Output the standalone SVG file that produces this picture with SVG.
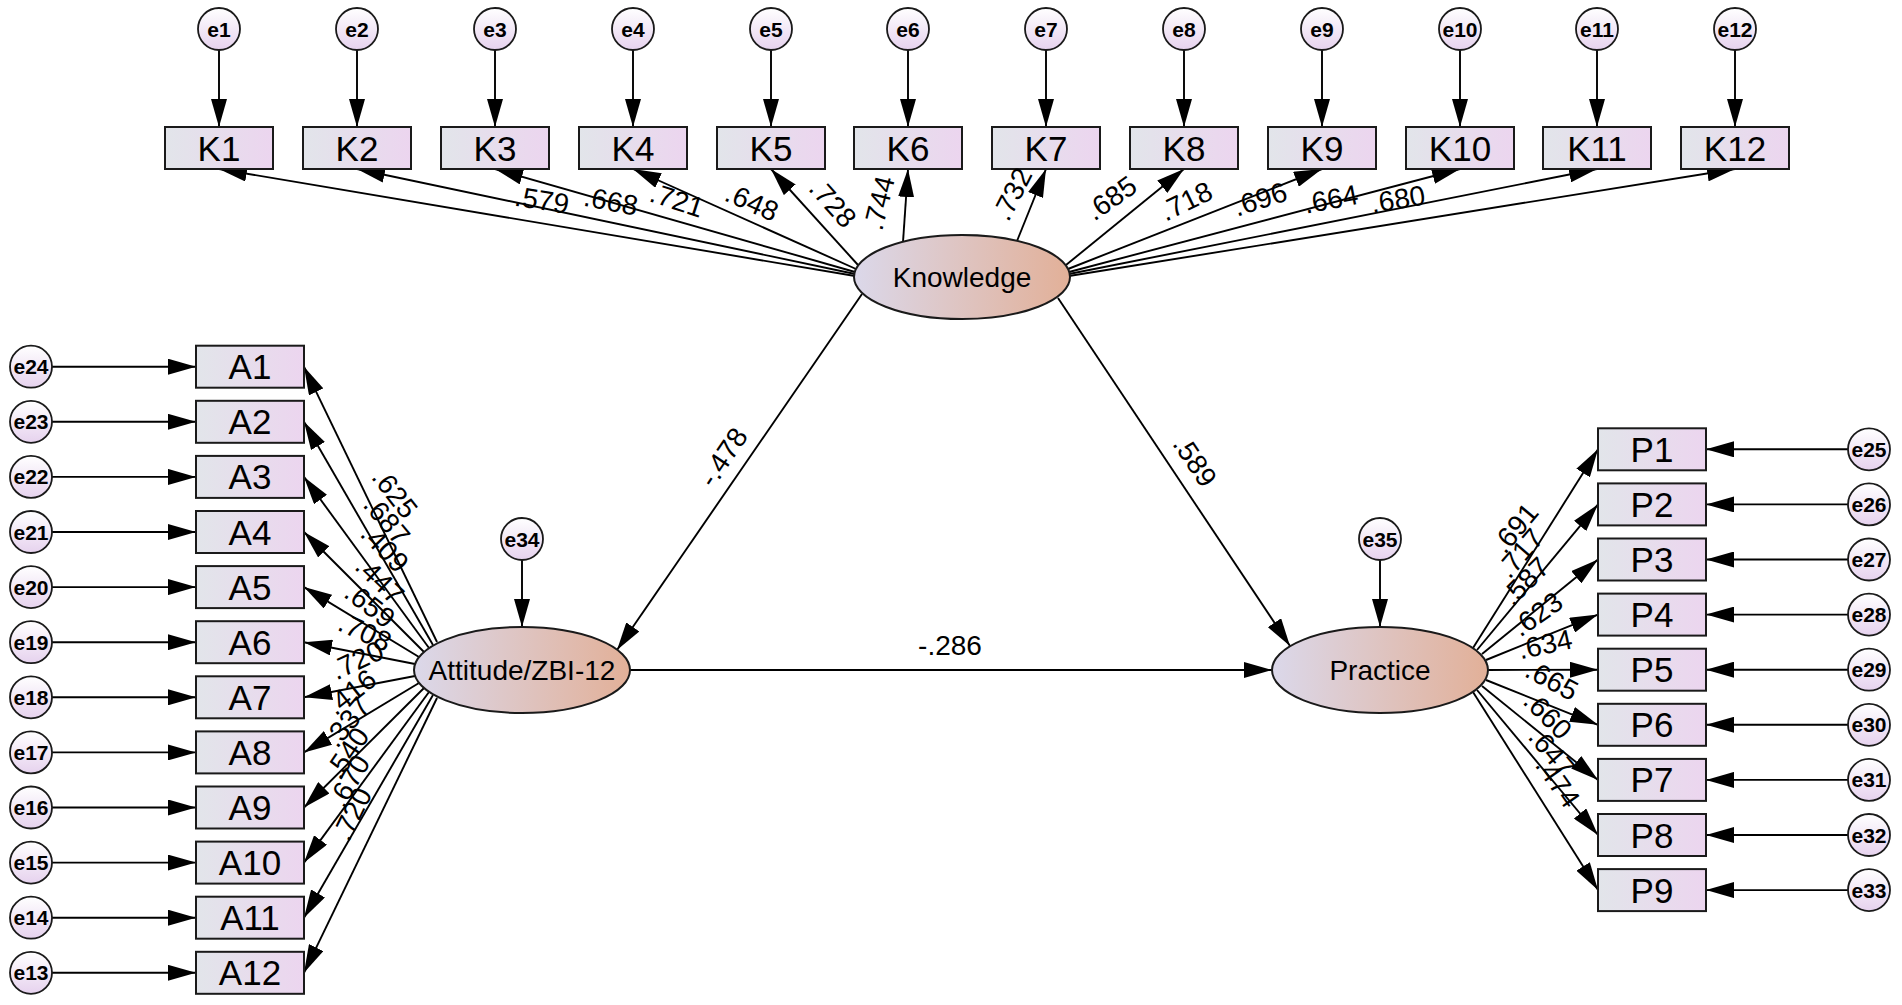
<svg xmlns="http://www.w3.org/2000/svg" width="1902" height="1005" viewBox="0 0 1902 1005">
<defs>
<linearGradient id="gBox" x1="0" y1="0" x2="1" y2="0"><stop offset="0" stop-color="#e2e5ea"/><stop offset="1" stop-color="#ecd5ef"/></linearGradient>
<linearGradient id="gLat" x1="0" y1="0" x2="1" y2="0"><stop offset="0" stop-color="#dbd8ea"/><stop offset="1" stop-color="#e2b098"/></linearGradient>
<linearGradient id="gErr" x1="0" y1="0" x2="0" y2="1"><stop offset="0" stop-color="#ffffff"/><stop offset="1" stop-color="#e6d2ee"/></linearGradient>
<marker id="ah" markerUnits="userSpaceOnUse" viewBox="0 0 28 16" refX="28" refY="8" markerWidth="28" markerHeight="16" orient="auto"><path d="M0,0L28,8L0,16Z" fill="#000"/></marker>
</defs>
<style>
.c{fill:none;stroke:#000;stroke-width:1.9;marker-end:url(#ah)}
.box{fill:url(#gBox);stroke:#1a1a1a;stroke-width:2}
.lat{fill:url(#gLat);stroke:#1a1a1a;stroke-width:2}
.err{fill:url(#gErr);stroke:#1a1a1a;stroke-width:1.8}
text{font-family:"Liberation Sans",Arial,sans-serif;fill:#000;text-anchor:middle}
.bt{font-size:35px}
.et{font-size:21px;font-weight:bold}
.lt{font-size:28px}
.pl{font-size:28px}
</style>
<rect width="1902" height="1005" fill="#fff"/>
<g id="connectors">
<path class="c" d="M219,50V127"/><path class="c" d="M357,50V127"/><path class="c" d="M495,50V127"/><path class="c" d="M633,50V127"/><path class="c" d="M771,50V127"/><path class="c" d="M908,50V127"/><path class="c" d="M1046,50V127"/><path class="c" d="M1184,50V127"/><path class="c" d="M1322,50V127"/><path class="c" d="M1460,50V127"/><path class="c" d="M1597,50V127"/><path class="c" d="M1735,50V127"/>
<path class="c" d="M52,366.7H196"/><path class="c" d="M52,421.8H196"/><path class="c" d="M52,476.9H196"/><path class="c" d="M52,532H196"/><path class="c" d="M52,587.1H196"/><path class="c" d="M52,642.2H196"/><path class="c" d="M52,697.3H196"/><path class="c" d="M52,752.4H196"/><path class="c" d="M52,807.5H196"/><path class="c" d="M52,862.6H196"/><path class="c" d="M52,917.7H196"/><path class="c" d="M52,972.8H196"/>
<path class="c" d="M1848,449.3H1706"/><path class="c" d="M1848,504.4H1706"/><path class="c" d="M1848,559.5H1706"/><path class="c" d="M1848,614.6H1706"/><path class="c" d="M1848,669.7H1706"/><path class="c" d="M1848,724.8H1706"/><path class="c" d="M1848,779.9H1706"/><path class="c" d="M1848,835H1706"/><path class="c" d="M1848,890.1H1706"/>
<path class="c" d="M522,560V627"/><path class="c" d="M1380,560V627"/>
<path class="c" d="M855,276L219,169"/><path class="c" d="M855,274L357,169"/><path class="c" d="M855,272L495,169"/><path class="c" d="M856,269L633,169"/><path class="c" d="M858,265L771,169"/><path class="c" d="M903,242L908,169"/><path class="c" d="M1017,241L1046,169"/><path class="c" d="M1066,265L1184,169"/><path class="c" d="M1068,269L1322,169"/><path class="c" d="M1069,272L1460,169"/><path class="c" d="M1069,274L1597,169"/><path class="c" d="M1069,276L1735,169"/>
<path class="c" d="M437,642L304,366.7"/><path class="c" d="M433,645L304,421.8"/><path class="c" d="M429,648L304,476.9"/><path class="c" d="M424,652L304,532"/><path class="c" d="M419,657L304,587.1"/><path class="c" d="M415,664L304,642.2"/><path class="c" d="M415,676L304,697.3"/><path class="c" d="M419,683L304,752.4"/><path class="c" d="M424,688L304,807.5"/><path class="c" d="M429,692L304,862.6"/><path class="c" d="M433,695L304,917.7"/><path class="c" d="M437,698L304,972.8"/>
<path class="c" d="M1473,648L1598,449.3"/><path class="c" d="M1477,650L1598,504.4"/><path class="c" d="M1482,654L1598,559.5"/><path class="c" d="M1486,660L1598,614.6"/><path class="c" d="M1488,670L1598,669.7"/><path class="c" d="M1486,680L1598,724.8"/><path class="c" d="M1482,686L1598,779.9"/><path class="c" d="M1477,690L1598,835"/><path class="c" d="M1473,692L1598,890.1"/>
<path class="c" d="M862,294L617,650"/>
<path class="c" d="M1058,298L1290,646"/>
<path class="c" d="M630,670L1272,670"/>
</g>
<g id="Knowledge"><ellipse class="lat" cx="962" cy="277" rx="108" ry="42"/><text class="lt" x="962" y="287">Knowledge</text></g>
<g id="Attitude"><ellipse class="lat" cx="522" cy="670" rx="108" ry="43"/><text class="lt" x="522" y="680">Attitude/ZBI-12</text></g>
<g id="Practice"><ellipse class="lat" cx="1380" cy="670" rx="108" ry="43"/><text class="lt" x="1380" y="680">Practice</text></g>
<g id="K1"><rect class="box" x="165" y="127" width="108" height="42"/><text class="bt" x="219" y="160.5">K1</text></g>
<g id="K2"><rect class="box" x="303" y="127" width="108" height="42"/><text class="bt" x="357" y="160.5">K2</text></g>
<g id="K3"><rect class="box" x="441" y="127" width="108" height="42"/><text class="bt" x="495" y="160.5">K3</text></g>
<g id="K4"><rect class="box" x="579" y="127" width="108" height="42"/><text class="bt" x="633" y="160.5">K4</text></g>
<g id="K5"><rect class="box" x="717" y="127" width="108" height="42"/><text class="bt" x="771" y="160.5">K5</text></g>
<g id="K6"><rect class="box" x="854" y="127" width="108" height="42"/><text class="bt" x="908" y="160.5">K6</text></g>
<g id="K7"><rect class="box" x="992" y="127" width="108" height="42"/><text class="bt" x="1046" y="160.5">K7</text></g>
<g id="K8"><rect class="box" x="1130" y="127" width="108" height="42"/><text class="bt" x="1184" y="160.5">K8</text></g>
<g id="K9"><rect class="box" x="1268" y="127" width="108" height="42"/><text class="bt" x="1322" y="160.5">K9</text></g>
<g id="K10"><rect class="box" x="1406" y="127" width="108" height="42"/><text class="bt" x="1460" y="160.5">K10</text></g>
<g id="K11"><rect class="box" x="1543" y="127" width="108" height="42"/><text class="bt" x="1597" y="160.5">K11</text></g>
<g id="K12"><rect class="box" x="1681" y="127" width="108" height="42"/><text class="bt" x="1735" y="160.5">K12</text></g>
<g id="e1"><ellipse class="err" cx="219" cy="29" rx="21" ry="21"/><text class="et" x="219" y="36.5">e1</text></g>
<g id="e2"><ellipse class="err" cx="357" cy="29" rx="21" ry="21"/><text class="et" x="357" y="36.5">e2</text></g>
<g id="e3"><ellipse class="err" cx="495" cy="29" rx="21" ry="21"/><text class="et" x="495" y="36.5">e3</text></g>
<g id="e4"><ellipse class="err" cx="633" cy="29" rx="21" ry="21"/><text class="et" x="633" y="36.5">e4</text></g>
<g id="e5"><ellipse class="err" cx="771" cy="29" rx="21" ry="21"/><text class="et" x="771" y="36.5">e5</text></g>
<g id="e6"><ellipse class="err" cx="908" cy="29" rx="21" ry="21"/><text class="et" x="908" y="36.5">e6</text></g>
<g id="e7"><ellipse class="err" cx="1046" cy="29" rx="21" ry="21"/><text class="et" x="1046" y="36.5">e7</text></g>
<g id="e8"><ellipse class="err" cx="1184" cy="29" rx="21" ry="21"/><text class="et" x="1184" y="36.5">e8</text></g>
<g id="e9"><ellipse class="err" cx="1322" cy="29" rx="21" ry="21"/><text class="et" x="1322" y="36.5">e9</text></g>
<g id="e10"><ellipse class="err" cx="1460" cy="29" rx="21" ry="21"/><text class="et" x="1460" y="36.5">e10</text></g>
<g id="e11"><ellipse class="err" cx="1597" cy="29" rx="21" ry="21"/><text class="et" x="1597" y="36.5">e11</text></g>
<g id="e12"><ellipse class="err" cx="1735" cy="29" rx="21" ry="21"/><text class="et" x="1735" y="36.5">e12</text></g>
<g id="A1"><rect class="box" x="196" y="345.7" width="108" height="42"/><text class="bt" x="250" y="379.2">A1</text></g>
<g id="A2"><rect class="box" x="196" y="400.8" width="108" height="42"/><text class="bt" x="250" y="434.3">A2</text></g>
<g id="A3"><rect class="box" x="196" y="455.9" width="108" height="42"/><text class="bt" x="250" y="489.4">A3</text></g>
<g id="A4"><rect class="box" x="196" y="511" width="108" height="42"/><text class="bt" x="250" y="544.5">A4</text></g>
<g id="A5"><rect class="box" x="196" y="566.1" width="108" height="42"/><text class="bt" x="250" y="599.6">A5</text></g>
<g id="A6"><rect class="box" x="196" y="621.2" width="108" height="42"/><text class="bt" x="250" y="654.7">A6</text></g>
<g id="A7"><rect class="box" x="196" y="676.3" width="108" height="42"/><text class="bt" x="250" y="709.8">A7</text></g>
<g id="A8"><rect class="box" x="196" y="731.4" width="108" height="42"/><text class="bt" x="250" y="764.9">A8</text></g>
<g id="A9"><rect class="box" x="196" y="786.5" width="108" height="42"/><text class="bt" x="250" y="820">A9</text></g>
<g id="A10"><rect class="box" x="196" y="841.6" width="108" height="42"/><text class="bt" x="250" y="875.1">A10</text></g>
<g id="A11"><rect class="box" x="196" y="896.7" width="108" height="42"/><text class="bt" x="250" y="930.2">A11</text></g>
<g id="A12"><rect class="box" x="196" y="951.8" width="108" height="42"/><text class="bt" x="250" y="985.3">A12</text></g>
<g id="e24"><ellipse class="err" cx="31" cy="366.7" rx="21" ry="21"/><text class="et" x="31" y="374.2">e24</text></g>
<g id="e23"><ellipse class="err" cx="31" cy="421.8" rx="21" ry="21"/><text class="et" x="31" y="429.3">e23</text></g>
<g id="e22"><ellipse class="err" cx="31" cy="476.9" rx="21" ry="21"/><text class="et" x="31" y="484.4">e22</text></g>
<g id="e21"><ellipse class="err" cx="31" cy="532" rx="21" ry="21"/><text class="et" x="31" y="539.5">e21</text></g>
<g id="e20"><ellipse class="err" cx="31" cy="587.1" rx="21" ry="21"/><text class="et" x="31" y="594.6">e20</text></g>
<g id="e19"><ellipse class="err" cx="31" cy="642.2" rx="21" ry="21"/><text class="et" x="31" y="649.7">e19</text></g>
<g id="e18"><ellipse class="err" cx="31" cy="697.3" rx="21" ry="21"/><text class="et" x="31" y="704.8">e18</text></g>
<g id="e17"><ellipse class="err" cx="31" cy="752.4" rx="21" ry="21"/><text class="et" x="31" y="759.9">e17</text></g>
<g id="e16"><ellipse class="err" cx="31" cy="807.5" rx="21" ry="21"/><text class="et" x="31" y="815">e16</text></g>
<g id="e15"><ellipse class="err" cx="31" cy="862.6" rx="21" ry="21"/><text class="et" x="31" y="870.1">e15</text></g>
<g id="e14"><ellipse class="err" cx="31" cy="917.7" rx="21" ry="21"/><text class="et" x="31" y="925.2">e14</text></g>
<g id="e13"><ellipse class="err" cx="31" cy="972.8" rx="21" ry="21"/><text class="et" x="31" y="980.3">e13</text></g>
<g id="P1"><rect class="box" x="1598" y="428.3" width="108" height="42"/><text class="bt" x="1652" y="461.8">P1</text></g>
<g id="P2"><rect class="box" x="1598" y="483.4" width="108" height="42"/><text class="bt" x="1652" y="516.9">P2</text></g>
<g id="P3"><rect class="box" x="1598" y="538.5" width="108" height="42"/><text class="bt" x="1652" y="572">P3</text></g>
<g id="P4"><rect class="box" x="1598" y="593.6" width="108" height="42"/><text class="bt" x="1652" y="627.1">P4</text></g>
<g id="P5"><rect class="box" x="1598" y="648.7" width="108" height="42"/><text class="bt" x="1652" y="682.2">P5</text></g>
<g id="P6"><rect class="box" x="1598" y="703.8" width="108" height="42"/><text class="bt" x="1652" y="737.3">P6</text></g>
<g id="P7"><rect class="box" x="1598" y="758.9" width="108" height="42"/><text class="bt" x="1652" y="792.4">P7</text></g>
<g id="P8"><rect class="box" x="1598" y="814" width="108" height="42"/><text class="bt" x="1652" y="847.5">P8</text></g>
<g id="P9"><rect class="box" x="1598" y="869.1" width="108" height="42"/><text class="bt" x="1652" y="902.6">P9</text></g>
<g id="e25"><ellipse class="err" cx="1869" cy="449.3" rx="21" ry="21"/><text class="et" x="1869" y="456.8">e25</text></g>
<g id="e26"><ellipse class="err" cx="1869" cy="504.4" rx="21" ry="21"/><text class="et" x="1869" y="511.9">e26</text></g>
<g id="e27"><ellipse class="err" cx="1869" cy="559.5" rx="21" ry="21"/><text class="et" x="1869" y="567">e27</text></g>
<g id="e28"><ellipse class="err" cx="1869" cy="614.6" rx="21" ry="21"/><text class="et" x="1869" y="622.1">e28</text></g>
<g id="e29"><ellipse class="err" cx="1869" cy="669.7" rx="21" ry="21"/><text class="et" x="1869" y="677.2">e29</text></g>
<g id="e30"><ellipse class="err" cx="1869" cy="724.8" rx="21" ry="21"/><text class="et" x="1869" y="732.3">e30</text></g>
<g id="e31"><ellipse class="err" cx="1869" cy="779.9" rx="21" ry="21"/><text class="et" x="1869" y="787.4">e31</text></g>
<g id="e32"><ellipse class="err" cx="1869" cy="835" rx="21" ry="21"/><text class="et" x="1869" y="842.5">e32</text></g>
<g id="e33"><ellipse class="err" cx="1869" cy="890.1" rx="21" ry="21"/><text class="et" x="1869" y="897.6">e33</text></g>
<g id="e34"><ellipse class="err" cx="522" cy="539" rx="21" ry="21"/><text class="et" x="522" y="546.5">e34</text></g>
<g id="e35"><ellipse class="err" cx="1380" cy="539" rx="21" ry="21"/><text class="et" x="1380" y="546.5">e35</text></g>
<g id="labels">
<text class="pl" dy=".35em" transform="translate(542,200) rotate(9)">.579</text>
<text class="pl" dy=".35em" transform="translate(611,201) rotate(11)">.668</text>
<text class="pl" dy=".35em" transform="translate(677,200) rotate(18)">.721</text>
<text class="pl" dy=".35em" transform="translate(752,202) rotate(24)">.648</text>
<text class="pl" dy=".35em" transform="translate(833,203) rotate(48)">.728</text>
<text class="pl" dy=".35em" transform="translate(879,203) rotate(-76)">.744</text>
<text class="pl" dy=".35em" transform="translate(1012,194) rotate(-63)">.732</text>
<text class="pl" dy=".35em" transform="translate(1111,198) rotate(-35)">.685</text>
<text class="pl" dy=".35em" transform="translate(1186,201) rotate(-26)">.718</text>
<text class="pl" dy=".35em" transform="translate(1260,199) rotate(-18)">.696</text>
<text class="pl" dy=".35em" transform="translate(1331,199) rotate(-11)">.664</text>
<text class="pl" dy=".35em" transform="translate(1398,199) rotate(-9)">.680</text>
<text class="pl" dy=".35em" transform="translate(395,493) rotate(52)">.625</text>
<text class="pl" dy=".35em" transform="translate(387,520) rotate(50)">.687</text>
<text class="pl" dy=".35em" transform="translate(385,548) rotate(46)">.409</text>
<text class="pl" dy=".35em" transform="translate(380,580) rotate(44)">.447</text>
<text class="pl" dy=".35em" transform="translate(370,605) rotate(38)">.659</text>
<text class="pl" dy=".35em" transform="translate(365,632) rotate(25)">.708</text>
<text class="pl" dy=".35em" transform="translate(357,660) rotate(-25)">.720</text>
<text class="pl" dy=".35em" transform="translate(351,692) rotate(-38)">.416</text>
<text class="pl" dy=".35em" transform="translate(347,722) rotate(-50)">.337</text>
<text class="pl" dy=".35em" transform="translate(347,753) rotate(-56)">.540</text>
<text class="pl" dy=".35em" transform="translate(349,781) rotate(-60)">.670</text>
<text class="pl" dy=".35em" transform="translate(352,814) rotate(-64)">.720</text>
<text class="pl" dy=".35em" transform="translate(1515,528) rotate(-50)">.691</text>
<text class="pl" dy=".35em" transform="translate(1520,553) rotate(-49)">.717</text>
<text class="pl" dy=".35em" transform="translate(1525,581) rotate(-45)">.587</text>
<text class="pl" dy=".35em" transform="translate(1537,614) rotate(-35)">.623</text>
<text class="pl" dy=".35em" transform="translate(1545,644) rotate(-12)">.634</text>
<text class="pl" dy=".35em" transform="translate(1552,680) rotate(28)">.665</text>
<text class="pl" dy=".35em" transform="translate(1548,715) rotate(45)">.660</text>
<text class="pl" dy=".35em" transform="translate(1552,752) rotate(50)">.647</text>
<text class="pl" dy=".35em" transform="translate(1558,782) rotate(55)">.474</text>
<text class="pl" dy=".35em" transform="translate(723,457) rotate(-56)">-.478</text>
<text class="pl" dy=".35em" transform="translate(1195,461) rotate(56)">.589</text>
<text class="pl" x="950" y="655">-.286</text>
</g>
</svg>
